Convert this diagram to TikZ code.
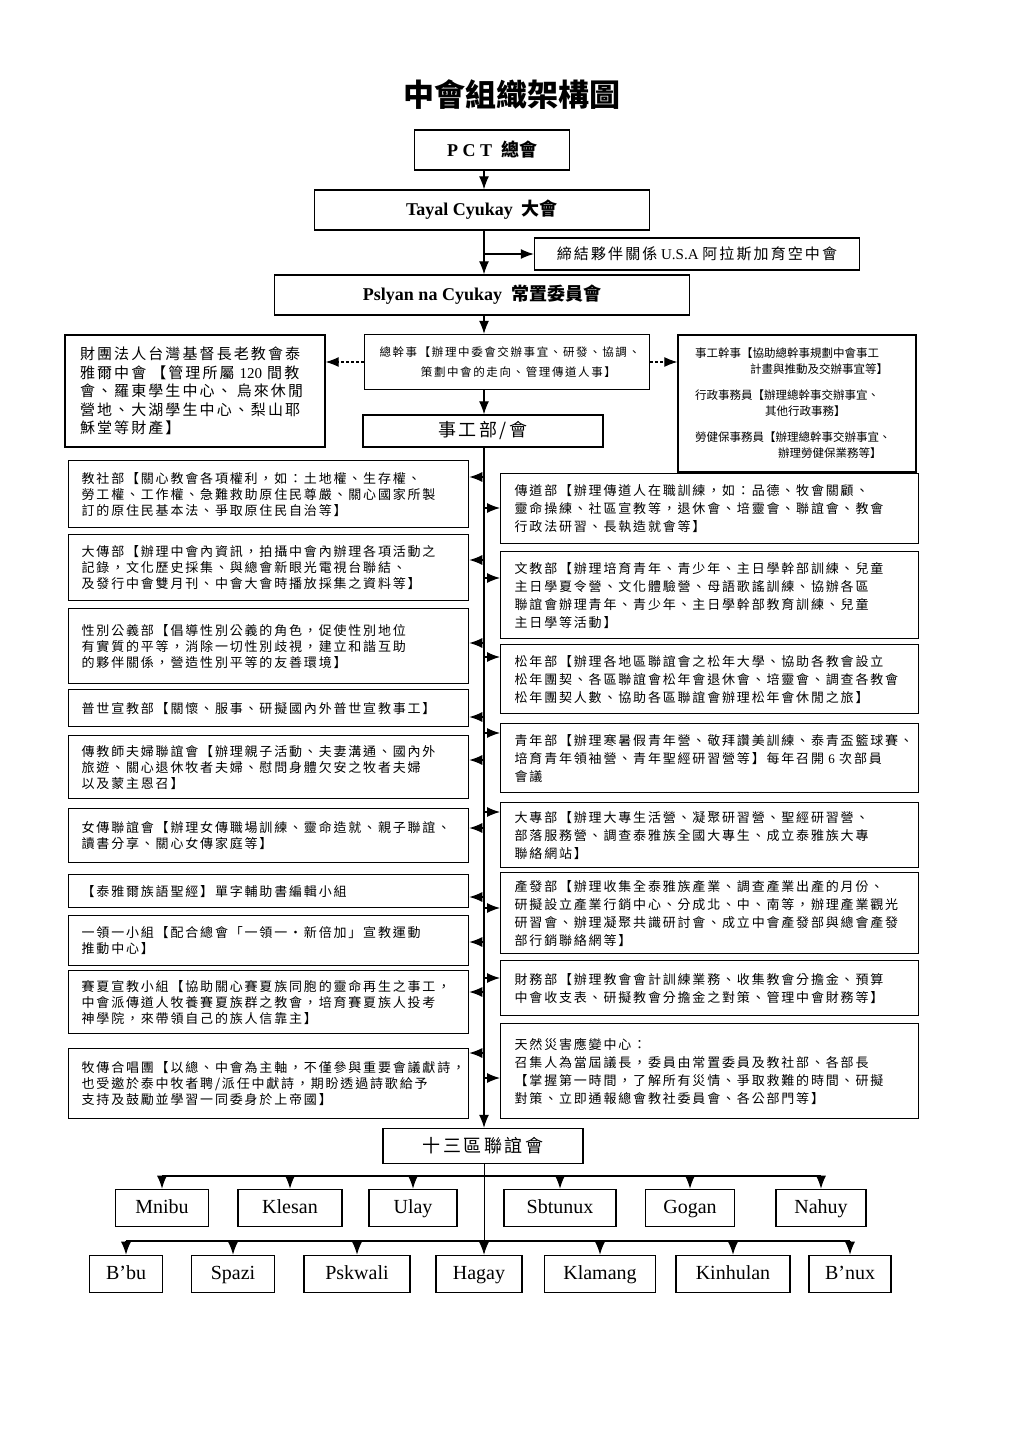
\documentclass[tikz,border=0pt]{standalone}
\usepackage{fontspec}
\setmainfont{Liberation Serif}
\newfontfamily\cjk[LetterSpace=14]{Noto Sans CJK TC}
\newfontfamily\cjkplain{Noto Sans CJK TC}
\usetikzlibrary{arrows.meta}

\tikzset{
  arr/.style={-{Latex[length=13pt,width=10pt]}, line width=1.1pt},
  darr/.style={arr, dash pattern=on 3pt off 2pt},
  headbox/.style={draw, line width=1.4pt, inner sep=0pt, font=\bfseries\fontsize{18}{20}\selectfont},
  deptbox/.style={draw, line width=1.3pt, anchor=north west, align=left, inner ysep=0pt},
  leftdept/.style={deptbox, text width=374pt, inner xsep=13pt, font=\cjk\fontsize{13}{16}\selectfont},
  rightdept/.style={deptbox, text width=390pt, inner xsep=14pt, font=\cjk\fontsize{13}{18}\selectfont},
  areabox/.style={draw, line width=1.6pt, minimum height=37pt, inner sep=0pt, text height=14pt, text depth=4pt,
    font=\fontsize{20}{22}\selectfont},
}

\begin{document}
\begin{tikzpicture}[x=1pt, y=-1pt]
\useasboundingbox (0,0) rectangle (1024,1447);
\coordinate (ax) at (484,0);

% title and the head of the tree
\node[font=\cjkplain\bfseries\fontsize{31}{31}\selectfont] (title) at (512,95) {中會組織架構圖};
\node[headbox, minimum width=155pt, minimum height=40pt] (pct) at (492,150) {P C T\ \ {\cjkplain 總會}};
\node[headbox, minimum width=335pt, minimum height=40pt] (tayal) at (482,210) {Tayal Cyukay\ \ {\cjkplain 大會}};
\node[draw, line width=1.4pt, inner sep=0pt, minimum width=325pt, minimum height=32pt,
      font=\fontsize{15}{17}\selectfont] (partner) at (697,254) {{\cjk 締結夥伴關係} U.S.A {\cjk 阿拉斯加育空中會}};
\node[headbox, minimum width=415pt, minimum height=40pt] (pslyan) at (482,295) {Pslyan na Cyukay\ \ {\cjkplain 常置委員會}};

\node[draw, line width=1.3pt, inner xsep=15pt, inner ysep=0pt, text width=255pt, minimum height=55pt,
      align=left, font=\cjk\fontsize{11.5}{20}\selectfont] (gs) at (507,362)
  {總幹事【辦理中委會交辦事宜、研發、協調、\\\hspace*{3.6em}策劃中會的走向、管理傳道人事】};
\node[draw, line width=1.3pt, inner xsep=15pt, inner ysep=0pt, text width=230pt, minimum height=112pt,
      align=left, font=\cjk\fontsize{15}{18.5}\selectfont] (prop) at (195,391)
  {財團法人台灣基督長老教會泰\\雅爾中會 【管理所屬 {\rmfamily 120} 間教\\會、羅東學生中心、 烏來休閒\\營地、大湖學生中心、梨山耶\\穌堂等財產】};
\node[draw, line width=1.3pt, inner xsep=17pt, inner ysep=0pt, text width=204pt, minimum height=137pt,
      align=left, font=\cjkplain\fontsize{11.5}{16}\selectfont] (staffw) at (797,403.5)
  {事工幹事【協助總幹事規劃中會事工\\\hspace*{55pt}計畫與推動及交辦事宜等】\\[10pt]
   行政事務員【辦理總幹事交辦事宜、\\\hspace*{70pt}其他行政事務】\\[10pt]
   勞健保事務員【辦理總幹事交辦事宜、\\\hspace*{83pt}辦理勞健保業務等】};
\node[draw, line width=1.4pt, inner sep=0pt, minimum width=240pt, minimum height=32pt,
      font=\cjk\fontsize{18}{20}\selectfont] (staff) at (483,431) {事工部/會};

\draw[arr] (pct.south -| ax) -- (tayal.north -| ax);
\draw[arr] (tayal.south -| ax) -- (pslyan.north -| ax);
\coordinate (tp) at (484,254);
\draw[arr] (tp) -- (partner.west);
\draw[arr] (pslyan.south -| ax) -- (gs.north -| ax);
\draw[arr] (gs.south -| ax) -- (staff.north -| ax);
\draw[darr] (gs.west) -- (gs.west -| prop.east);
\draw[darr] (gs.east) -- (gs.east -| staffw.west);

% left column of departments
\foreach \nm/\ya/\hb/\yar/\txt in {
    jiaoshe/460/67/477/{教社部【關心教會各項權利，如：土地權、生存權、\\勞工權、工作權、急難救助原住民尊嚴、關心國家所製\\訂的原住民基本法、爭取原住民自治等】},
    dachuan/534/66/560/{大傳部【辦理中會內資訊，拍攝中會內辦理各項活動之\\記錄，文化歷史採集、與總會新眼光電視台聯結、\\及發行中會雙月刊、中會大會時播放採集之資料等】},
    xingbie/608/75/643/{性別公義部【倡導性別公義的角色，促使性別地位\\有實質的平等，消除一切性別歧視，建立和諧互助\\的夥伴關係，營造性別平等的友善環境】},
    pushi/689/37/717/{普世宣教部【關懷、服事、研擬國內外普世宣教事工】},
    fufu/735/63/760/{傳教師夫婦聯誼會【辦理親子活動、夫妻溝通、國內外\\旅遊、關心退休牧者夫婦、慰問身體欠安之牧者夫婦\\以及蒙主恩召】},
    nvchuan/808/54/828/{女傳聯誼會【辦理女傳職場訓練、靈命造就、親子聯誼、\\讀書分享、關心女傳家庭等】},
    shengjing/874/33/897/{【泰雅爾族語聖經】單字輔助書編輯小組},
    lingyi/915/50/942/{一領一小組【配合總會「一領一・新倍加」宣教運動\\推動中心】},
    saixia/970/63/992/{賽夏宣教小組【協助關心賽夏族同胞的靈命再生之事工，\\中會派傳道人牧養賽夏族群之教會，培育賽夏族人投考\\神學院，來帶領自己的族人信靠主】},
    muchuan/1048/70/1053/{牧傳合唱團【以總、中會為主軸，不僅參與重要會議獻詩，\\也受邀於泰中牧者聘/派任中獻詩，期盼透過詩歌給予\\支持及鼓勵並學習一同委身於上帝國】}
  } {
    \node[leftdept, minimum height=\hb pt] (\nm) at (68,\ya) {\txt};
    \coordinate (b\nm) at (484,\yar);
    \draw[arr] (b\nm) -- (b\nm -| \nm.east);
  }

% right column of departments
\foreach \nm/\ya/\hb/\yar/\txt in {
    chuandao/473/70/508/{傳道部【辦理傳道人在職訓練，如：品德、牧會關顧、\\靈命操練、社區宣教等，退休會、培靈會、聯誼會、教會\\行政法研習、長執造就會等】},
    wenjiao/551/87/578/{文教部【辦理培育青年、青少年、主日學幹部訓練、兒童\\主日學夏令營、文化體驗營、母語歌謠訓練、協辦各區\\聯誼會辦理青年、青少年、主日學幹部教育訓練、兒童\\主日學等活動】},
    songnian/644/69/657/{松年部【辦理各地區聯誼會之松年大學、協助各教會設立\\松年團契、各區聯誼會松年會退休會、培靈會、調查各教會\\松年團契人數、協助各區聯誼會辦理松年會休閒之旅】},
    qingnian/723/69/733/{青年部【辦理寒暑假青年營、敬拜讚美訓練、泰青盃籃球賽、\\培育青年領袖營、青年聖經研習營等】每年召開 {\rmfamily 6} 次部員\\會議},
    dazhuan/802/65/812/{大專部【辦理大專生活營、凝聚研習營、聖經研習營、\\部落服務營、調查泰雅族全國大專生、成立泰雅族大專\\聯絡網站】},
    chanfa/872/81/908/{產發部【辦理收集全泰雅族產業、調查產業出產的月份、\\研擬設立產業行銷中心、分成北、中、南等，辦理產業觀光\\研習會、辦理凝聚共識研討會、成立中會產發部與總會產發\\部行銷聯絡網等】},
    caiwu/960/55/978/{財務部【辦理教會會計訓練業務、收集教會分擔金、預算\\中會收支表、研擬教會分擔金之對策、管理中會財務等】},
    zaihai/1023/95/1078/{天然災害應變中心：\\召集人為當屆議長，委員由常置委員及教社部、各部長\\【掌握第一時間，了解所有災情、爭取救難的時間、研擬\\對策、立即通報總會教社委員會、各公部門等】}
  } {
    \node[rightdept, minimum height=\hb pt] (\nm) at (500,\ya) {\txt};
    \coordinate (b\nm) at (484,\yar);
    \draw[arr] (b\nm) -- (b\nm -| \nm.west);
  }

% the thirteen district councils
\node[draw, line width=1.4pt, inner sep=0pt, minimum width=200pt, minimum height=35pt,
      font=\cjk\fontsize{18}{20}\selectfont] (district) at (483,1146) {十三區聯誼會};
\draw[arr] (staff.south -| ax) -- (district.north -| ax);

\coordinate (rowa) at (484,1176);
\coordinate (rowb) at (484,1241);
\foreach \nm/\lbl/\cx/\w in {mnibu/Mnibu/162/93, klesan/Klesan/290/104, ulay/Ulay/413/88,
    sbtunux/Sbtunux/560/112, gogan/Gogan/690/89, nahuy/Nahuy/821/90} {
    \node[areabox, minimum width=\w pt] (\nm) at (\cx,1208) {\lbl};
    \draw[arr] (\nm.north |- rowa) -- (\nm.north);
  }
\foreach \nm/\lbl/\cx/\w in {bbu/B'bu/126/73, spazi/Spazi/233/83, pskwali/Pskwali/357/106,
    hagay/Hagay/479/86, klamang/Klamang/600/111, kinhulan/Kinhulan/733/114, bnux/B'nux/850/82} {
    \node[areabox, minimum width=\w pt] (\nm) at (\cx,1274) {\lbl};
  }
\foreach \nm in {bbu,spazi,pskwali,klamang,kinhulan,bnux}
  \draw[arr] (\nm.north |- rowb) -- (\nm.north);
\draw[line width=1.1pt] (rowa -| mnibu.north) -- (rowa -| nahuy.north);
\draw[line width=1.1pt] (rowb -| bbu.north) -- (rowb -| bnux.north);
\draw[arr, line width=0.8pt] (district.south -| ax) -- (hagay.north -| ax);

\end{tikzpicture}
\end{document}
